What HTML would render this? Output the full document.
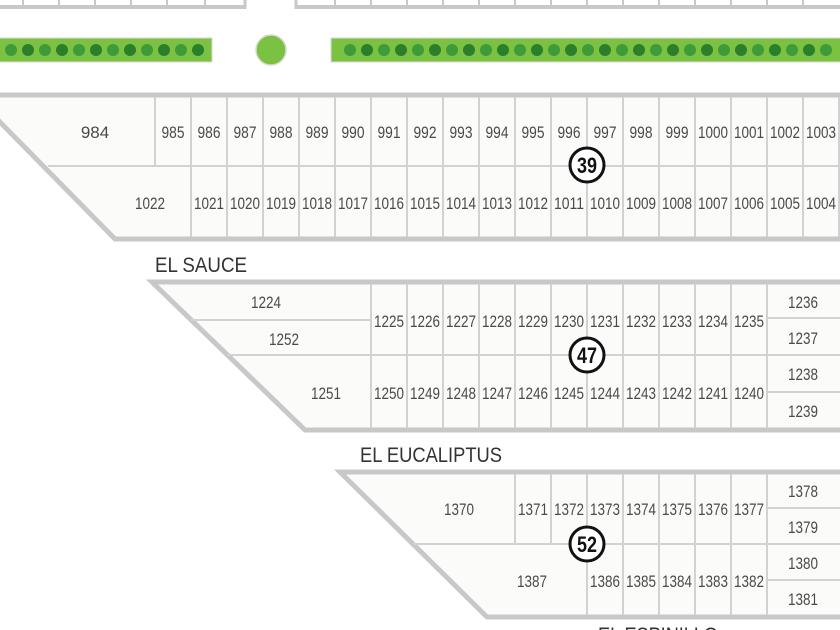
<!DOCTYPE html>
<html><head><meta charset="utf-8"><style>
html,body{margin:0;padding:0;background:#fff;width:840px;height:630px;overflow:hidden}
svg{display:block}
text{font-family:"Liberation Sans",sans-serif;fill:#4a4a4a}
.n{font-size:17px;text-anchor:middle}
.s{font-size:21px;fill:#333}
.c{font-size:22px;font-weight:bold;fill:#111;text-anchor:middle}
</style></head><body>
<svg width="840" height="630" viewBox="0 0 840 630" xmlns="http://www.w3.org/2000/svg">
<g stroke="#c8c8c8" fill="none">
<line x1="0" y1="7" x2="245" y2="7" stroke-width="4"/>
<line x1="296" y1="7" x2="840" y2="7" stroke-width="4"/>
<line x1="245" y1="0" x2="245" y2="9" stroke-width="3"/>
<line x1="296" y1="0" x2="296" y2="9" stroke-width="3"/>
<path d="M23 0V6M59 0V6M95 0V6M131 0V6M167 0V6M205 0V6M335 0V6M371 0V6M407 0V6M443 0V6M479 0V6M515 0V6M551 0V6M587 0V6M623 0V6M659 0V6M695 0V6M731 0V6M767 0V6M803 0V6" stroke-width="2"/>
</g>
<rect x="-2" y="38" width="214" height="24" fill="#7cc242" stroke="#d8d8d8" stroke-width="1"/>
<rect x="331" y="38" width="515" height="24" fill="#7cc242" stroke="#d8d8d8" stroke-width="1"/>
<circle cx="271" cy="50" r="15" fill="#7cc242" stroke="#d8d8d8" stroke-width="1.5"/>
<g fill="#3f9a3a">
<circle cx="11" cy="50" r="6"/><circle cx="28" cy="50" r="6" fill="#2a7e2c"/><circle cx="45" cy="50" r="6"/><circle cx="62" cy="50" r="6" fill="#2a7e2c"/><circle cx="79" cy="50" r="6"/><circle cx="96" cy="50" r="6" fill="#2a7e2c"/><circle cx="113" cy="50" r="6"/><circle cx="130" cy="50" r="6" fill="#2a7e2c"/><circle cx="147" cy="50" r="6"/><circle cx="164" cy="50" r="6" fill="#2a7e2c"/><circle cx="181" cy="50" r="6"/><circle cx="198" cy="50" r="6" fill="#2a7e2c"/>
<circle cx="350" cy="50" r="6"/><circle cx="367" cy="50" r="6" fill="#2a7e2c"/><circle cx="384" cy="50" r="6"/><circle cx="401" cy="50" r="6" fill="#2a7e2c"/><circle cx="418" cy="50" r="6"/><circle cx="435" cy="50" r="6" fill="#2a7e2c"/><circle cx="452" cy="50" r="6"/><circle cx="469" cy="50" r="6" fill="#2a7e2c"/><circle cx="486" cy="50" r="6"/><circle cx="503" cy="50" r="6" fill="#2a7e2c"/><circle cx="520" cy="50" r="6"/><circle cx="537" cy="50" r="6" fill="#2a7e2c"/><circle cx="554" cy="50" r="6"/><circle cx="571" cy="50" r="6" fill="#2a7e2c"/><circle cx="588" cy="50" r="6"/><circle cx="605" cy="50" r="6" fill="#2a7e2c"/><circle cx="622" cy="50" r="6"/><circle cx="639" cy="50" r="6" fill="#2a7e2c"/><circle cx="656" cy="50" r="6"/><circle cx="673" cy="50" r="6" fill="#2a7e2c"/><circle cx="690" cy="50" r="6"/><circle cx="707" cy="50" r="6" fill="#2a7e2c"/><circle cx="724" cy="50" r="6"/><circle cx="741" cy="50" r="6" fill="#2a7e2c"/><circle cx="758" cy="50" r="6"/><circle cx="775" cy="50" r="6" fill="#2a7e2c"/><circle cx="792" cy="50" r="6"/><circle cx="809" cy="50" r="6" fill="#2a7e2c"/><circle cx="826" cy="50" r="6"/>
</g>

<polygon points="-5,95 845,95 845,239 115,239 -5,117" fill="#fbfbf9" stroke="#c8c8c8" stroke-width="5"/>
<g stroke="#d2d2d2" stroke-width="2" fill="none">
<line x1="48" y1="166" x2="840" y2="166"/>
<path d="M155 97V166M191 97V237M227 97V237M263 97V237M299 97V237M335 97V237M371 97V237M407 97V237M443 97V237M479 97V237M515 97V237M551 97V237M587 97V237M623 97V237M659 97V237M695 97V237M731 97V237M767 97V237M803 97V237M839 97V237"/>
</g>
<text class="n" x="95" y="138">984</text>
<text class="n" x="173" y="138" textLength="23" lengthAdjust="spacingAndGlyphs">985</text>
<text class="n" x="209" y="138" textLength="23" lengthAdjust="spacingAndGlyphs">986</text>
<text class="n" x="245" y="138" textLength="23" lengthAdjust="spacingAndGlyphs">987</text>
<text class="n" x="281" y="138" textLength="23" lengthAdjust="spacingAndGlyphs">988</text>
<text class="n" x="317" y="138" textLength="23" lengthAdjust="spacingAndGlyphs">989</text>
<text class="n" x="353" y="138" textLength="23" lengthAdjust="spacingAndGlyphs">990</text>
<text class="n" x="389" y="138" textLength="23" lengthAdjust="spacingAndGlyphs">991</text>
<text class="n" x="425" y="138" textLength="23" lengthAdjust="spacingAndGlyphs">992</text>
<text class="n" x="461" y="138" textLength="23" lengthAdjust="spacingAndGlyphs">993</text>
<text class="n" x="497" y="138" textLength="23" lengthAdjust="spacingAndGlyphs">994</text>
<text class="n" x="533" y="138" textLength="23" lengthAdjust="spacingAndGlyphs">995</text>
<text class="n" x="569" y="138" textLength="23" lengthAdjust="spacingAndGlyphs">996</text>
<text class="n" x="605" y="138" textLength="23" lengthAdjust="spacingAndGlyphs">997</text>
<text class="n" x="641" y="138" textLength="23" lengthAdjust="spacingAndGlyphs">998</text>
<text class="n" x="677" y="138" textLength="23" lengthAdjust="spacingAndGlyphs">999</text>
<text class="n" x="713" y="138" textLength="30" lengthAdjust="spacingAndGlyphs">1000</text>
<text class="n" x="749" y="138" textLength="30" lengthAdjust="spacingAndGlyphs">1001</text>
<text class="n" x="785" y="138" textLength="30" lengthAdjust="spacingAndGlyphs">1002</text>
<text class="n" x="821" y="138" textLength="30" lengthAdjust="spacingAndGlyphs">1003</text>
<text class="n" x="150" y="209" textLength="30" lengthAdjust="spacingAndGlyphs">1022</text>
<text class="n" x="209" y="209" textLength="30" lengthAdjust="spacingAndGlyphs">1021</text>
<text class="n" x="245" y="209" textLength="30" lengthAdjust="spacingAndGlyphs">1020</text>
<text class="n" x="281" y="209" textLength="30" lengthAdjust="spacingAndGlyphs">1019</text>
<text class="n" x="317" y="209" textLength="30" lengthAdjust="spacingAndGlyphs">1018</text>
<text class="n" x="353" y="209" textLength="30" lengthAdjust="spacingAndGlyphs">1017</text>
<text class="n" x="389" y="209" textLength="30" lengthAdjust="spacingAndGlyphs">1016</text>
<text class="n" x="425" y="209" textLength="30" lengthAdjust="spacingAndGlyphs">1015</text>
<text class="n" x="461" y="209" textLength="30" lengthAdjust="spacingAndGlyphs">1014</text>
<text class="n" x="497" y="209" textLength="30" lengthAdjust="spacingAndGlyphs">1013</text>
<text class="n" x="533" y="209" textLength="30" lengthAdjust="spacingAndGlyphs">1012</text>
<text class="n" x="569" y="209" textLength="30" lengthAdjust="spacingAndGlyphs">1011</text>
<text class="n" x="605" y="209" textLength="30" lengthAdjust="spacingAndGlyphs">1010</text>
<text class="n" x="641" y="209" textLength="30" lengthAdjust="spacingAndGlyphs">1009</text>
<text class="n" x="677" y="209" textLength="30" lengthAdjust="spacingAndGlyphs">1008</text>
<text class="n" x="713" y="209" textLength="30" lengthAdjust="spacingAndGlyphs">1007</text>
<text class="n" x="749" y="209" textLength="30" lengthAdjust="spacingAndGlyphs">1006</text>
<text class="n" x="785" y="209" textLength="30" lengthAdjust="spacingAndGlyphs">1005</text>
<text class="n" x="821" y="209" textLength="30" lengthAdjust="spacingAndGlyphs">1004</text>
<circle cx="587" cy="165" r="17" fill="#fff" stroke="#111" stroke-width="3"/>
<text class="c" x="587" y="173" textLength="20" lengthAdjust="spacingAndGlyphs">39</text>

<text class="s" x="155" y="272" textLength="92" lengthAdjust="spacingAndGlyphs">EL SAUCE</text>

<polygon points="152,282 845,282 845,430 305,430" fill="#fbfbf9" stroke="#c8c8c8" stroke-width="5"/>
<g stroke="#d2d2d2" stroke-width="2" fill="none">
<line x1="191" y1="320" x2="371" y2="320"/>
<line x1="227" y1="355" x2="840" y2="355"/>
<line x1="767" y1="318" x2="840" y2="318"/>
<line x1="767" y1="392" x2="840" y2="392"/>
<path d="M371 284V428M407 284V428M443 284V428M479 284V428M515 284V428M551 284V428M587 284V428M623 284V428M659 284V428M695 284V428M731 284V428M767 284V428"/>
</g>
<text class="n" x="266" y="308" textLength="30" lengthAdjust="spacingAndGlyphs">1224</text>
<text class="n" x="284" y="345" textLength="30" lengthAdjust="spacingAndGlyphs">1252</text>
<text class="n" x="326" y="399" textLength="30" lengthAdjust="spacingAndGlyphs">1251</text>
<text class="n" x="389" y="327" textLength="30" lengthAdjust="spacingAndGlyphs">1225</text>
<text class="n" x="425" y="327" textLength="30" lengthAdjust="spacingAndGlyphs">1226</text>
<text class="n" x="461" y="327" textLength="30" lengthAdjust="spacingAndGlyphs">1227</text>
<text class="n" x="497" y="327" textLength="30" lengthAdjust="spacingAndGlyphs">1228</text>
<text class="n" x="533" y="327" textLength="30" lengthAdjust="spacingAndGlyphs">1229</text>
<text class="n" x="569" y="327" textLength="30" lengthAdjust="spacingAndGlyphs">1230</text>
<text class="n" x="605" y="327" textLength="30" lengthAdjust="spacingAndGlyphs">1231</text>
<text class="n" x="641" y="327" textLength="30" lengthAdjust="spacingAndGlyphs">1232</text>
<text class="n" x="677" y="327" textLength="30" lengthAdjust="spacingAndGlyphs">1233</text>
<text class="n" x="713" y="327" textLength="30" lengthAdjust="spacingAndGlyphs">1234</text>
<text class="n" x="749" y="327" textLength="30" lengthAdjust="spacingAndGlyphs">1235</text>
<text class="n" x="389" y="399" textLength="30" lengthAdjust="spacingAndGlyphs">1250</text>
<text class="n" x="425" y="399" textLength="30" lengthAdjust="spacingAndGlyphs">1249</text>
<text class="n" x="461" y="399" textLength="30" lengthAdjust="spacingAndGlyphs">1248</text>
<text class="n" x="497" y="399" textLength="30" lengthAdjust="spacingAndGlyphs">1247</text>
<text class="n" x="533" y="399" textLength="30" lengthAdjust="spacingAndGlyphs">1246</text>
<text class="n" x="569" y="399" textLength="30" lengthAdjust="spacingAndGlyphs">1245</text>
<text class="n" x="605" y="399" textLength="30" lengthAdjust="spacingAndGlyphs">1244</text>
<text class="n" x="641" y="399" textLength="30" lengthAdjust="spacingAndGlyphs">1243</text>
<text class="n" x="677" y="399" textLength="30" lengthAdjust="spacingAndGlyphs">1242</text>
<text class="n" x="713" y="399" textLength="30" lengthAdjust="spacingAndGlyphs">1241</text>
<text class="n" x="749" y="399" textLength="30" lengthAdjust="spacingAndGlyphs">1240</text>
<text class="n" x="803" y="308" textLength="30" lengthAdjust="spacingAndGlyphs">1236</text>
<text class="n" x="803" y="344" textLength="30" lengthAdjust="spacingAndGlyphs">1237</text>
<text class="n" x="803" y="380" textLength="30" lengthAdjust="spacingAndGlyphs">1238</text>
<text class="n" x="803" y="417" textLength="30" lengthAdjust="spacingAndGlyphs">1239</text>
<circle cx="587" cy="355" r="17" fill="#fff" stroke="#111" stroke-width="3"/>
<text class="c" x="587" y="363" textLength="20" lengthAdjust="spacingAndGlyphs">47</text>

<text class="s" x="360" y="462" textLength="142" lengthAdjust="spacingAndGlyphs">EL EUCALIPTUS</text>

<polygon points="340,472 845,472 845,617 487,617" fill="#fbfbf9" stroke="#c8c8c8" stroke-width="5"/>
<g stroke="#d2d2d2" stroke-width="2" fill="none">
<line x1="413" y1="544" x2="840" y2="544"/>
<line x1="767" y1="508" x2="840" y2="508"/>
<line x1="767" y1="580" x2="840" y2="580"/>
<path d="M515 474V544M551 474V544M587 474V615M623 474V615M659 474V615M695 474V615M731 474V615M767 474V615"/>
</g>
<text class="n" x="459" y="515" textLength="30" lengthAdjust="spacingAndGlyphs">1370</text>
<text class="n" x="533" y="515" textLength="30" lengthAdjust="spacingAndGlyphs">1371</text>
<text class="n" x="569" y="515" textLength="30" lengthAdjust="spacingAndGlyphs">1372</text>
<text class="n" x="605" y="515" textLength="30" lengthAdjust="spacingAndGlyphs">1373</text>
<text class="n" x="641" y="515" textLength="30" lengthAdjust="spacingAndGlyphs">1374</text>
<text class="n" x="677" y="515" textLength="30" lengthAdjust="spacingAndGlyphs">1375</text>
<text class="n" x="713" y="515" textLength="30" lengthAdjust="spacingAndGlyphs">1376</text>
<text class="n" x="749" y="515" textLength="30" lengthAdjust="spacingAndGlyphs">1377</text>
<text class="n" x="532" y="587" textLength="30" lengthAdjust="spacingAndGlyphs">1387</text>
<text class="n" x="605" y="587" textLength="30" lengthAdjust="spacingAndGlyphs">1386</text>
<text class="n" x="641" y="587" textLength="30" lengthAdjust="spacingAndGlyphs">1385</text>
<text class="n" x="677" y="587" textLength="30" lengthAdjust="spacingAndGlyphs">1384</text>
<text class="n" x="713" y="587" textLength="30" lengthAdjust="spacingAndGlyphs">1383</text>
<text class="n" x="749" y="587" textLength="30" lengthAdjust="spacingAndGlyphs">1382</text>
<text class="n" x="803" y="497" textLength="30" lengthAdjust="spacingAndGlyphs">1378</text>
<text class="n" x="803" y="533" textLength="30" lengthAdjust="spacingAndGlyphs">1379</text>
<text class="n" x="803" y="569" textLength="30" lengthAdjust="spacingAndGlyphs">1380</text>
<text class="n" x="803" y="605" textLength="30" lengthAdjust="spacingAndGlyphs">1381</text>
<circle cx="587" cy="544" r="17" fill="#fff" stroke="#111" stroke-width="3"/>
<text class="c" x="587" y="552" textLength="20" lengthAdjust="spacingAndGlyphs">52</text>

<text class="s" x="598" y="642" textLength="120" lengthAdjust="spacingAndGlyphs">EL ESPINILLO</text>
</svg>
</body></html>
